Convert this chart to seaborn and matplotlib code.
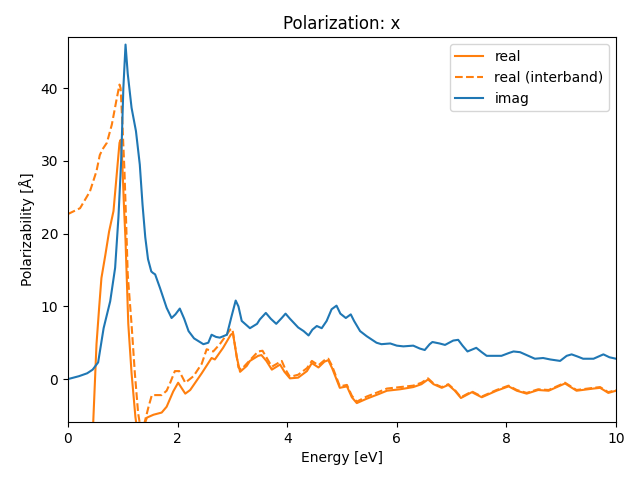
import numpy as np
import pandas as pd
import matplotlib
matplotlib.use("Agg")
import matplotlib.pyplot as plt
import seaborn as sns

# imaginary part
imag_E = [0.0, 0.2, 0.35, 0.45, 0.55, 0.65, 0.77, 0.86, 0.92, 0.97, 1.01, 1.05, 1.09, 1.16, 1.24, 1.31,
          1.36, 1.41, 1.46, 1.52, 1.55, 1.59, 1.68, 1.80, 1.89, 1.96, 2.04, 2.12, 2.20, 2.30, 2.47,
          2.56, 2.62, 2.70, 2.77, 2.90, 2.98, 3.06, 3.11, 3.17, 3.32, 3.45, 3.50, 3.61, 3.70, 3.80,
          3.90, 3.97, 4.05, 4.20, 4.30, 4.39, 4.46, 4.54, 4.63, 4.72, 4.81, 4.90, 4.97, 5.07, 5.16,
          5.22, 5.33, 5.45, 5.63, 5.72, 5.88, 6.00, 6.12, 6.30, 6.42, 6.51, 6.60, 6.65, 6.78, 6.88,
          7.03, 7.12, 7.20, 7.29, 7.45, 7.55, 7.64, 7.91, 8.05, 8.13, 8.25, 8.40, 8.52, 8.67, 8.80,
          8.98, 9.10, 9.19, 9.30, 9.40, 9.59, 9.77, 9.88, 10.0]
imag_v = [0.0, 0.4, 0.8, 1.3, 2.3, 7.0, 10.7, 15.3, 22.2, 30.0, 40.0, 46.0, 42.0, 37.3, 34.1, 29.5,
          24.0, 19.5, 16.5, 14.8, 14.6, 14.4, 12.5, 9.8, 8.4, 8.9, 9.7, 8.3, 6.6, 5.6, 4.8,
          5.0, 6.1, 5.8, 5.7, 6.1, 8.5, 10.8, 10.0, 8.0, 7.0, 7.6, 8.2, 9.1, 8.3, 7.6,
          8.4, 9.0, 8.3, 7.1, 6.6, 6.0, 6.8, 7.3, 7.0, 8.0, 9.6, 10.1, 9.0, 8.4, 8.9,
          8.0, 6.6, 5.9, 5.0, 4.8, 4.9, 4.6, 4.5, 4.6, 4.2, 4.0, 4.8, 5.1, 4.9, 4.7,
          5.3, 5.4, 4.6, 3.8, 4.3, 3.7, 3.2, 3.2, 3.6, 3.8, 3.7, 3.2, 2.8, 2.9, 2.7,
          2.5, 3.2, 3.4, 3.1, 2.8, 2.8, 3.4, 3.0, 2.8]

# real part (total)
real_E = [0.05, 0.2, 0.35, 0.46, 0.52, 0.57, 0.61, 0.68, 0.75, 0.83, 0.94, 0.96, 0.99, 1.02, 1.05,
          1.10, 1.16, 1.23, 1.28, 1.36, 1.44, 1.56, 1.71, 1.80, 1.92, 2.01, 2.14, 2.23, 2.44, 2.62,
          2.68, 2.83, 2.97, 3.01, 3.08, 3.14, 3.26, 3.32, 3.47, 3.53, 3.62, 3.72, 3.87, 3.95, 4.05,
          4.20, 4.36, 4.45, 4.57, 4.68, 4.75, 4.82, 4.96, 5.09, 5.18, 5.27, 5.45, 5.69, 5.82, 6.06,
          6.30, 6.45, 6.57, 6.67, 6.82, 6.94, 7.06, 7.17, 7.27, 7.37, 7.55, 7.82, 8.04, 8.19, 8.37,
          8.58, 8.77, 9.07, 9.28, 9.59, 9.71, 9.86, 10.0]
real_v = [-300.0, -60.0, -20.0, -6.0, 4.8, 10.0, 13.9, 17.0, 20.3, 23.1, 32.5, 32.9, 30.0, 24.0, 19.0,
          7.6, 0.8, -5.2, -8.0, -7.0, -5.3, -4.9, -4.6, -3.8, -1.7, -0.5, -2.0, -1.5, 0.8, 2.9,
          2.7, 4.3, 6.1, 6.3, 3.0, 1.0, 1.8, 2.5, 3.2, 3.3, 2.5, 1.3, 2.0, 1.0, 0.1,
          0.2, 1.1, 2.2, 1.6, 2.4, 2.6, 1.5, -1.2, -1.0, -2.5, -3.3, -2.7, -2.0, -1.6, -1.4,
          -1.1, -0.7, -0.05, -0.7, -1.2, -0.8, -1.6, -2.6, -2.2, -1.8, -2.5, -1.6, -1.0, -1.6, -2.0,
          -1.5, -1.6, -0.6, -1.6, -1.3, -1.2, -1.9, -1.6]

# real part (interband)
inter_E = [0.0, 0.22, 0.40, 0.52, 0.58, 0.63, 0.71, 0.80, 0.89, 0.94, 0.96, 0.99, 1.03, 1.06, 1.09,
           1.16, 1.22, 1.28, 1.33, 1.38, 1.47, 1.53, 1.71, 1.80, 1.86, 1.95, 2.03, 2.14, 2.29, 2.44,
           2.53, 2.65, 2.77, 2.96, 3.00, 3.06, 3.11, 3.16, 3.32, 3.47, 3.55, 3.62, 3.72, 3.90, 3.97,
           4.05, 4.20, 4.36, 4.45, 4.57, 4.68, 4.75, 4.82, 4.96, 5.09, 5.18, 5.27, 5.45, 5.69, 5.82,
           6.06, 6.30, 6.45, 6.57, 6.67, 6.82, 6.94, 7.06, 7.17, 7.27, 7.37, 7.55, 7.82, 8.04, 8.19,
           8.37, 8.58, 8.77, 9.07, 9.28, 9.59, 9.71, 9.86, 10.0]
inter_v = [22.7, 23.5, 25.8, 28.6, 30.8, 31.6, 32.5, 35.0, 38.6, 40.5, 40.0, 35.6, 28.7, 21.8, 14.4,
           7.5, 0.8, -4.7, -7.0, -6.5, -3.8, -2.2, -2.2, -1.6, -0.6, 1.1, 1.1, -0.5, 0.4, 2.1,
           4.1, 3.8, 4.8, 6.8, 6.9, 4.0, 1.6, 1.3, 2.6, 3.8, 3.9, 3.0, 1.7, 2.5, 1.3,
           0.3, 0.6, 1.5, 2.5, 1.9, 2.6, 2.8, 1.8, -1.0, -0.8, -2.3, -3.1, -2.4, -1.7, -1.3,
           -1.1, -0.9, -0.5, 0.1, -0.6, -1.1, -0.7, -1.5, -2.5, -2.1, -1.7, -2.4, -1.5, -0.9, -1.5,
           -1.9, -1.4, -1.5, -0.5, -1.5, -1.2, -1.1, -1.8, -1.5]

fig, ax = plt.subplots(figsize=(6.4, 4.8), dpi=100)
sns.lineplot(x=real_E, y=real_v, ax=ax, color="C1", label="real", estimator=None, sort=False)
sns.lineplot(x=inter_E, y=inter_v, ax=ax, color="C1", linestyle="--", label="real (interband)",
             estimator=None, sort=False)
sns.lineplot(x=imag_E, y=imag_v, ax=ax, color="C0", label="imag", estimator=None, sort=False)

ax.set_xlim(0, 10)
ax.set_ylim(-5.9, 47.0)
ax.set_title("Polarization: x")
ax.set_xlabel("Energy [eV]")
ax.set_ylabel("Polarizability [Å]")
ax.legend(loc="upper right")
fig.subplots_adjust(left=68 / 640, right=616 / 640, top=1 - 37.3 / 480, bottom=1 - 422 / 480)
fig.savefig("out.png", dpi=100)
